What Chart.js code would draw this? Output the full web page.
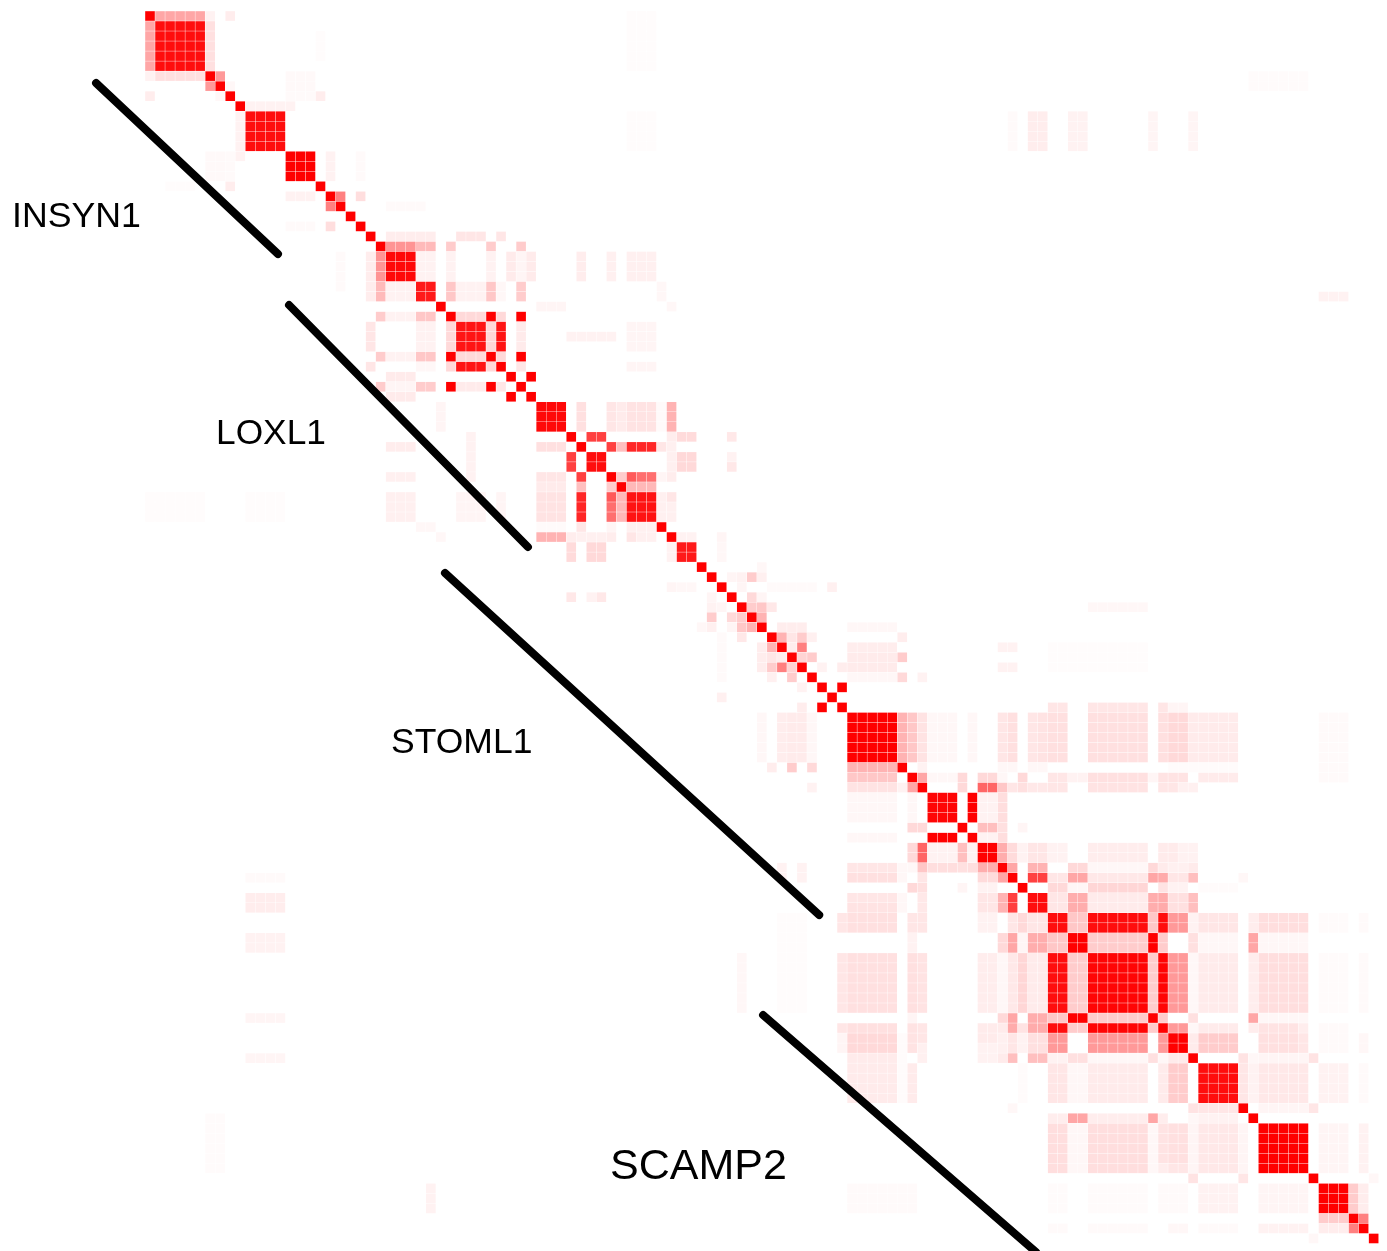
<!DOCTYPE html>
<html>
<head>
<meta charset="utf-8">
<title>LD heatmap</title>
<script src="https://cdn.jsdelivr.net/npm/chart.js@4/dist/chart.umd.min.js"></script>
<style>
html,body{margin:0;padding:0;background:#fff;}
canvas{display:block;}
</style>
</head>
<body>
<canvas id="ldChart" width="1387" height="1251"></canvas>
<script>
/* =========================
   DATA
   patches: [rowFrom,rowTo,colFrom,colTo,r2]
   upper triangle, mirrored when the matrix is built
========================= */

const cellCount = 123;

const geneNames = ["INSYN1","LOXL1","STOML1","SCAMP2"];
const lineStartX = [-5.38,13.86,29.41,61.12];
const lineStartY = [6.69,28.84,55.59,99.70];
const lineEndX = [12.76,37.68,66.72,88.33];
const lineEndY = [23.75,52.99,89.72,123.35];

const selfCells = [
    0,6,7,8,9,17,18,19,20,21,22,23,29,30,34,35,36,37,38,
    42,43,46,47,51,52,55,56,57,58,59,60,61,62,63,64,65,66,67,68,69,
    75,76,77,81,82,85,86,87,100,101,104,109,110,116,120,121,122
];

const strongBlocks = [
    [1,5,.95],[10,13,.95],[14,16,1],[24,26,.97],[27,28,.9],[31,33,.92],
    [39,41,.97],[44,45,.95],[48,50,.93],[53,54,.9],[70,74,1],[78,80,.98],
    [83,84,1],[88,89,.95],[90,91,.95],[92,93,1],[94,99,.98],[102,103,1],
    [105,108,.95],[111,115,1],[117,119,1]
];

const insynPatches = [
    [0,0,1,5,.35],[0,0,6,6,.05],[1,5,6,6,.12],[0,0,8,8,.07],[6,6,7,7,.4],
    [7,7,8,8,.03],[6,7,14,16,.025],[8,8,14,16,.02],[8,8,17,17,.07],
    [9,9,10,14,.05],[2,4,17,17,.012],[14,16,18,18,.05],[14,16,21,21,.02],
    [18,18,19,19,.5],[18,18,21,21,.13],[19,19,24,27,.02],[22,22,24,28,.07],
    [22,22,31,33,.1],[22,22,35,35,.1],[23,23,24,26,.42],[23,23,27,28,.27],
    [23,23,30,30,.2],[23,23,34,34,.2],[23,23,37,37,.2]
];

const loxlPatches = [
    [24,26,27,28,.05],[24,26,30,30,.05],[24,26,34,34,.05],[24,26,36,36,.08],
    [24,26,37,37,.04],[24,26,38,38,.08],[24,26,43,43,.07],[24,26,46,46,.06],
    [24,26,48,50,.06],[27,28,30,30,.22],[27,28,31,33,.05],[27,28,34,34,.22],
    [27,28,35,35,.03],[27,28,37,37,.2],[27,28,51,51,.03],[28,28,117,119,.05],
    [29,29,39,41,.04],[29,29,52,52,.03],[30,30,31,33,.15],[30,30,34,34,1],
    [30,30,35,35,.15],[30,30,37,37,1],[31,33,34,34,.15],[31,33,35,35,.92],
    [31,33,37,37,.08],[32,32,42,46,.05],[31,33,48,50,.04],[34,34,35,35,.15],
    [34,34,37,37,1],[35,35,37,37,.1],[35,35,48,50,.04],[36,36,38,38,1],
    [39,41,43,43,.12],[39,41,46,46,.1],[39,41,47,47,.08],[39,41,48,50,.11],
    [39,41,51,51,.02],[39,41,52,52,.3],[42,42,44,45,.75],[42,42,52,52,.07],
    [42,42,53,54,.14],[42,42,58,58,.09],[43,43,46,46,.75],[43,43,47,47,.25],
    [43,43,48,50,.85],[43,43,51,51,.1],[43,43,52,52,.06],[44,45,52,52,.06],
    [44,45,53,54,.15],[44,44,58,58,.05],[45,45,58,58,.09],[46,46,47,47,.2],
    [46,46,48,48,.65],[46,46,49,50,.57],[46,46,51,51,.04],[46,46,52,52,.07],
    [47,47,48,50,.28],[48,50,51,51,.06],[48,48,52,52,.1],[49,50,52,52,.06],
    [52,52,53,54,.05],[52,52,57,57,.04],[53,54,57,57,.03]
];

const stomlPatches = [
    [55,55,61,61,.03],[56,56,58,58,.04],[56,56,59,59,.05],[56,56,60,60,.2],
    [56,56,61,61,.06],[57,57,59,59,.04],[57,57,62,66,.02],[57,57,68,68,.06],
    [58,58,60,60,.15],[58,58,61,61,.04],[59,59,60,60,.2],[59,59,61,61,.22],
    [59,59,62,62,.09],[60,60,61,61,.3],[61,61,63,65,.07],[62,62,63,63,.3],
    [62,62,64,64,.1],[62,62,65,65,.2],[62,62,66,66,.06],[62,62,75,75,.07],
    [63,63,64,64,.07],[63,63,65,65,.5],[63,63,70,74,.07],[63,63,85,86,.05],
    [64,64,65,65,.17],[64,64,66,66,.2],[64,64,70,74,.08],[64,64,75,75,.2],
    [65,65,67,67,.05],[65,65,69,69,.07],[65,65,70,74,.08],[65,65,85,86,.05],
    [66,66,70,74,.03],[66,66,75,75,.15],[66,66,77,77,.05],[67,67,69,69,1],
    [61,61,70,74,.03],[69,69,90,91,.1],[69,69,94,99,.1],[69,69,101,101,.1],
    [69,69,102,103,.04],[70,74,75,75,.3],[70,74,76,76,.22],[70,74,77,77,.11],
    [70,74,78,80,.03],[70,74,82,82,.03],[70,74,85,85,.1],[70,74,86,86,.12],
    [70,74,88,88,.1],[70,74,89,89,.11],[70,74,90,91,.12],[70,74,94,99,.12],
    [70,74,101,101,.12],[70,74,102,103,.15],[70,74,104,108,.08],
    [70,76,117,119,.02],[75,75,85,86,.03],[75,75,88,89,.03],[75,75,77,77,.05],
    [75,75,102,108,.015],[76,76,77,77,.35],[76,76,78,80,.03],[76,76,81,81,.15],
    [76,76,83,84,.15],[76,76,85,85,.03],[76,76,87,87,.15],[76,76,90,91,.1],
    [76,76,92,93,.05],[76,76,94,99,.12],[76,76,100,100,.04],[76,76,101,103,.11],
    [76,76,105,108,.08],[77,77,81,81,.15],[77,77,83,84,.6],[77,77,85,85,.22],
    [77,77,86,86,.1],[77,77,87,87,.12],[77,77,88,89,.09],[77,77,90,91,.1],
    [77,77,94,99,.11],[77,77,101,102,.1],[77,77,103,104,.06],
    [78,80,82,82,1],[78,80,83,84,.05],[78,80,85,85,.13],[82,82,83,84,.05],
    [82,82,85,85,.13],[81,81,83,84,.25],[81,81,85,85,.12],[81,81,87,87,.04],
    [83,84,85,85,.32],[83,84,86,86,.14],[83,84,87,87,.05],[83,84,88,89,.1],
    [83,84,90,91,.05],[83,84,94,99,.07],[83,84,101,102,.08],[83,84,103,104,.05]
];

const scampPatches = [
    [85,85,86,86,.35],[85,85,88,89,.3],[85,85,92,93,.15],[85,85,94,99,.03],
    [85,85,100,100,.15],[85,85,101,101,.08],[85,85,102,103,.06],[85,85,104,104,.08],
    [86,86,88,89,.75],[86,86,90,91,.1],[86,86,92,93,.35],[86,86,94,99,.09],
    [86,86,100,100,.35],[86,86,101,101,.33],[86,86,102,103,.1],[86,86,104,104,.25],
    [86,86,109,109,.03],[87,87,90,91,.15],[87,87,92,93,.04],[87,87,94,99,.16],
    [87,87,101,101,.11],[87,87,102,103,.05],[87,87,105,108,.015],
    [88,89,90,91,.1],[88,89,92,93,.32],[88,89,94,99,.08],[88,89,100,100,.32],
    [88,89,101,101,.33],[88,89,102,103,.12],[88,89,104,104,.25],
    [90,91,92,93,.22],[90,91,94,99,.95],[90,91,100,100,.22],[90,91,101,101,.95],
    [90,91,102,103,.4],[90,91,104,104,.05],[90,91,105,108,.1],[90,91,110,110,.07],
    [90,91,111,115,.13],[90,91,117,119,.015],[90,91,121,121,.02],
    [92,93,94,99,.2],[92,93,100,100,1],[92,93,101,101,.2],[92,93,104,104,.12],
    [92,93,105,108,.03],[92,93,110,110,.35],[92,93,111,115,.03],
    [94,99,100,100,.2],[94,99,101,101,.98],[94,99,102,103,.4],[94,99,104,104,.03],
    [94,99,105,108,.08],[94,99,110,110,.07],[94,99,111,115,.13],[94,99,117,119,.015],
    [94,99,121,121,.02],[100,100,101,101,.2],[100,100,104,104,.12],[100,100,110,110,.35],
    [100,100,111,115,.03],[101,101,102,103,.4],[101,101,104,104,.03],[101,101,105,108,.08],
    [101,101,110,110,.07],[101,101,111,114,.11],[101,101,115,115,.07],[101,103,117,119,.02],
    [102,103,104,104,.08],[102,103,105,108,.2],[102,103,111,114,.12],[102,103,115,115,.1],
    [102,103,121,121,.03],[104,104,109,109,.11],[104,104,110,110,.03],[104,104,111,115,.04],
    [104,104,116,116,.11],[105,108,109,109,.1],[105,108,110,110,.05],[105,108,111,115,.09],
    [105,108,117,119,.05],[105,108,121,121,.02],[109,109,111,115,.04],[109,109,116,116,.1],
    [111,115,117,119,.04],[111,115,121,121,.05],[116,116,122,122,.03],[117,119,120,120,.2],
    [117,119,121,121,.07],[120,120,121,121,.5]
];

const distantPatches = [
    [10,13,86,86,.02],[10,13,88,89,.07],[10,13,92,93,.05],[10,13,100,100,.04],
    [10,13,104,104,.04],[7,7,111,115,.012],[48,50,10,13,.015],[59,59,94,99,.03],
    [6,7,110,115,.015],[0,5,48,50,.01],[63,65,90,99,.012],[10,13,48,50,.012]
];

/* =========================
   BUILD CELLS
========================= */

const ldMatrix =
Array.from(
    {length:cellCount},
    () => new Array(cellCount).fill(0)
);

function setPatch(patch){

    const [rowFrom,rowTo,colFrom,colTo,r2] = patch;

    for(let r = rowFrom; r <= rowTo; r++){

        for(let c = colFrom; c <= colTo; c++){

            ldMatrix[r][c] = r2;
            ldMatrix[c][r] = r2;

        }

    }

}

[
    ...distantPatches,
    ...insynPatches,
    ...loxlPatches,
    ...stomlPatches,
    ...scampPatches
].forEach(setPatch);

strongBlocks.forEach(
    item => setPatch([item[0],item[1],item[0],item[1],item[2]])
);

selfCells.forEach(
    k => setPatch([k,k,k,k,1])
);

const cellPoints = [];
const cellColors = [];

ldMatrix.forEach((row,r) => {

    row.forEach((r2,c) => {

        if(r2 > 0){

            const fade = Math.round(255 * (1 - r2));

            cellPoints.push({x:c,y:r});
            cellColors.push(`rgb(255,${fade},${fade})`);

        }

    });

});

/* =========================
   GENE LABELS
========================= */

const labelLayout = [
    {x:12,y:227,size:35.7},
    {x:216,y:444,size:35.3},
    {x:391,y:753,size:35.5},
    {x:610,y:1179,size:43}
];

const geneLabelPlugin = {

    id:"geneLabels",

    afterDatasetsDraw(chart){

        const ctx = chart.ctx;

        ctx.save();
        ctx.fillStyle = "#000";
        ctx.textBaseline = "alphabetic";

        geneNames.forEach((name,i) => {

            ctx.font = labelLayout[i].size + 'px "Liberation Sans"';
            ctx.fillText(name,labelLayout[i].x,labelLayout[i].y);

        });

        ctx.restore();

    }

};

/* =========================
   CHART
========================= */

const geneLines =
geneNames.map((name,i) => ({

    label:name,

    data:[
        {x:lineStartX[i],y:lineStartY[i]},
        {x:lineEndX[i],y:lineEndY[i]}
    ],

    showLine:true,

    borderColor:"#000",

    borderWidth:8,

    borderCapStyle:"round",

    pointRadius:0,

    clip:false

}));

new Chart(document.getElementById("ldChart"),{

    type:"scatter",

    data:{

        datasets:[

            ...geneLines,

            {

                label:"r2",

                data:cellPoints,

                pointStyle:"rect",

                pointRadius:6.8,

                pointBorderWidth:0,

                pointBackgroundColor:cellColors,

                clip:false

            }

        ]

    },

    options:{

        responsive:false,

        animation:false,

        layout:{
            autoPadding:false,
            padding:0
        },

        plugins:{

            legend:{
                display:false
            },

            tooltip:{
                enabled:false
            }

        },

        scales:{

            x:{
                type:"linear",
                display:false,
                bounds:"data",
                min:-14.955,
                max:123.33
            },

            y:{
                type:"linear",
                display:false,
                bounds:"data",
                reverse:true,
                min:-1.597,
                max:123.25
            }

        }

    },

    plugins:[geneLabelPlugin]

});
</script>
</body>
</html>
